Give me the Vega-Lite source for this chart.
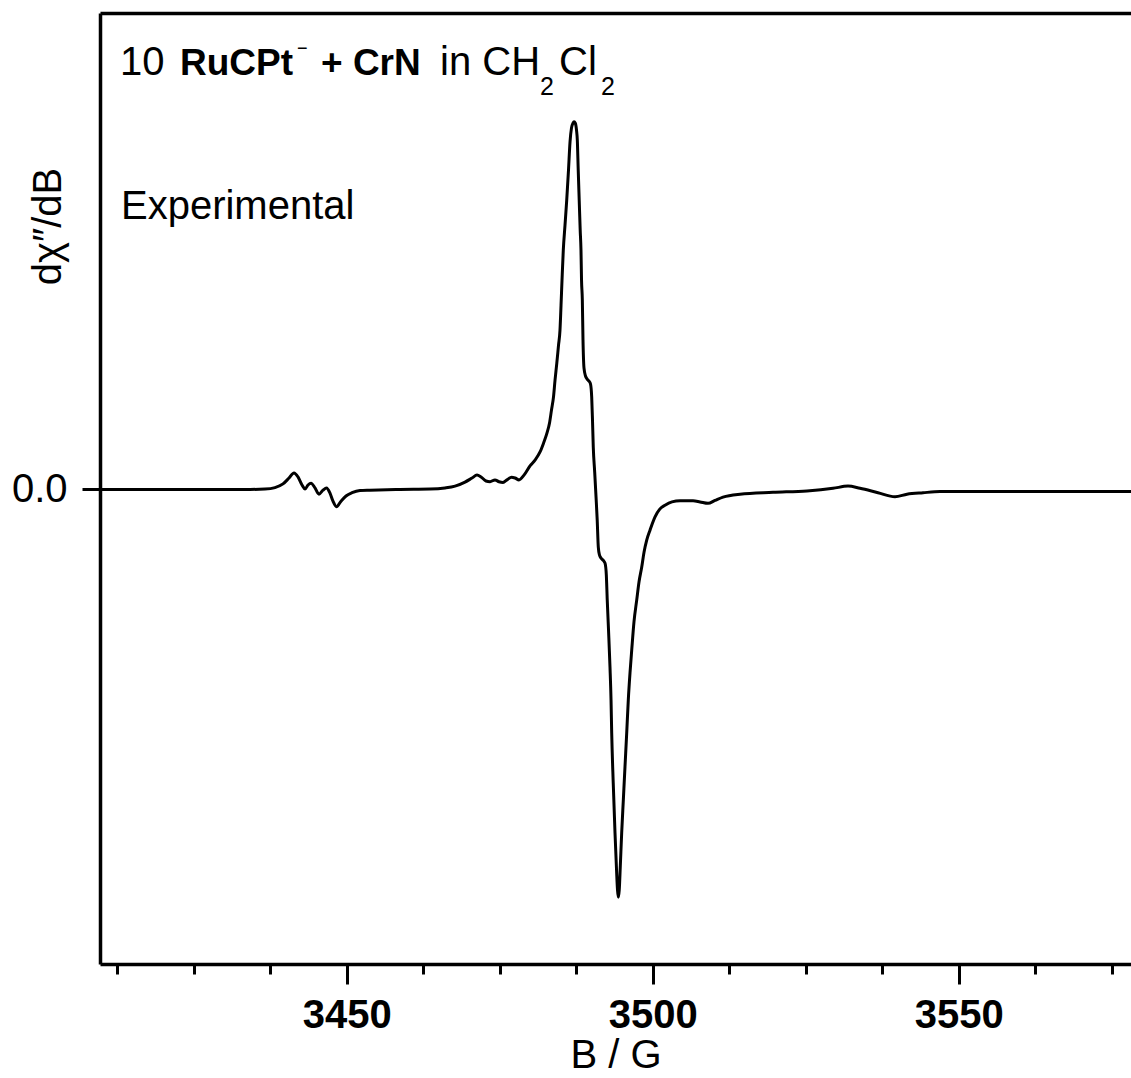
{
 "$schema": "https://vega.github.io/schema/vega-lite/v6.json",
 "width": 1031,
 "height": 951,
 "autosize": {"type": "none"},
 "padding": {"left": 100, "top": 13, "right": 0, "bottom": 114},
 "background": "white",
 "config": {"view": {"stroke": null}, "font": "Liberation Sans"},
 "datasets": {
  "spectrum": [
   {"B": 3409.70, "v": -0.001}, {"B": 3426.04, "v": -0.001}, {"B": 3434.21, "v": -0.001}, {"B": 3436.66, "v": 0.000},
   {"B": 3438.29, "v": 0.004}, {"B": 3439.60, "v": 0.014}, {"B": 3440.58, "v": 0.030}, {"B": 3441.40, "v": 0.044},
   {"B": 3442.05, "v": 0.033}, {"B": 3442.71, "v": 0.011}, {"B": 3443.20, "v": 0.000}, {"B": 3443.69, "v": 0.011},
   {"B": 3444.18, "v": 0.016}, {"B": 3444.83, "v": 0.003}, {"B": 3445.48, "v": -0.014}, {"B": 3446.14, "v": -0.003},
   {"B": 3446.71, "v": 0.003}, {"B": 3447.28, "v": -0.011}, {"B": 3447.77, "v": -0.033}, {"B": 3448.34, "v": -0.048},
   {"B": 3449.08, "v": -0.033}, {"B": 3449.90, "v": -0.019}, {"B": 3450.88, "v": -0.010}, {"B": 3452.18, "v": -0.004},
   {"B": 3453.82, "v": -0.003}, {"B": 3458.72, "v": -0.001}, {"B": 3463.62, "v": 0.000}, {"B": 3466.07, "v": 0.003},
   {"B": 3467.71, "v": 0.008}, {"B": 3469.34, "v": 0.019}, {"B": 3470.48, "v": 0.030}, {"B": 3471.30, "v": 0.038},
   {"B": 3471.95, "v": 0.033}, {"B": 3472.77, "v": 0.022}, {"B": 3473.43, "v": 0.020}, {"B": 3474.24, "v": 0.025},
   {"B": 3474.90, "v": 0.020}, {"B": 3475.55, "v": 0.018}, {"B": 3476.20, "v": 0.025}, {"B": 3476.94, "v": 0.032},
   {"B": 3477.51, "v": 0.030}, {"B": 3478.16, "v": 0.025}, {"B": 3478.98, "v": 0.038}, {"B": 3479.96, "v": 0.063},
   {"B": 3480.78, "v": 0.079}, {"B": 3481.60, "v": 0.101}, {"B": 3482.17, "v": 0.125}, {"B": 3482.74, "v": 0.153},
   {"B": 3483.15, "v": 0.180}, {"B": 3483.47, "v": 0.215}, {"B": 3483.80, "v": 0.251}, {"B": 3484.05, "v": 0.297},
   {"B": 3484.34, "v": 0.343}, {"B": 3484.62, "v": 0.392}, {"B": 3484.86, "v": 0.433}, {"B": 3485.03, "v": 0.501},
   {"B": 3485.19, "v": 0.569}, {"B": 3485.40, "v": 0.651}, {"B": 3485.68, "v": 0.719}, {"B": 3485.96, "v": 0.787},
   {"B": 3486.25, "v": 0.869}, {"B": 3486.50, "v": 0.946}, {"B": 3486.74, "v": 0.984}, {"B": 3486.99, "v": 0.997},
   {"B": 3487.15, "v": 1.001}, {"B": 3487.36, "v": 0.997}, {"B": 3487.56, "v": 0.978}, {"B": 3487.69, "v": 0.951},
   {"B": 3487.84, "v": 0.869}, {"B": 3488.00, "v": 0.787}, {"B": 3488.16, "v": 0.706}, {"B": 3488.29, "v": 0.651},
   {"B": 3488.38, "v": 0.569}, {"B": 3488.51, "v": 0.515}, {"B": 3488.62, "v": 0.406}, {"B": 3488.78, "v": 0.330},
   {"B": 3489.03, "v": 0.308}, {"B": 3489.28, "v": 0.300}, {"B": 3489.60, "v": 0.294}, {"B": 3489.85, "v": 0.286},
   {"B": 3490.04, "v": 0.251}, {"B": 3490.17, "v": 0.188}, {"B": 3490.30, "v": 0.114}, {"B": 3490.53, "v": 0.046},
   {"B": 3490.75, "v": -0.022}, {"B": 3490.94, "v": -0.084}, {"B": 3491.12, "v": -0.158}, {"B": 3491.32, "v": -0.180},
   {"B": 3491.56, "v": -0.188}, {"B": 3491.97, "v": -0.195}, {"B": 3492.22, "v": -0.202}, {"B": 3492.43, "v": -0.234},
   {"B": 3492.58, "v": -0.302}, {"B": 3492.79, "v": -0.384}, {"B": 3493.03, "v": -0.485}, {"B": 3493.20, "v": -0.575},
   {"B": 3493.31, "v": -0.665}, {"B": 3493.56, "v": -0.801}, {"B": 3493.85, "v": -0.937}, {"B": 3494.10, "v": -1.038},
   {"B": 3494.26, "v": -1.093}, {"B": 3494.39, "v": -1.112}, {"B": 3494.54, "v": -1.093}, {"B": 3494.72, "v": -1.025},
   {"B": 3494.94, "v": -0.937}, {"B": 3495.21, "v": -0.847}, {"B": 3495.48, "v": -0.757}, {"B": 3495.76, "v": -0.665},
   {"B": 3496.02, "v": -0.575}, {"B": 3496.30, "v": -0.501}, {"B": 3496.58, "v": -0.439}, {"B": 3496.95, "v": -0.362},
   {"B": 3497.40, "v": -0.302}, {"B": 3497.77, "v": -0.253}, {"B": 3498.21, "v": -0.213}, {"B": 3498.59, "v": -0.172},
   {"B": 3499.03, "v": -0.139}, {"B": 3499.57, "v": -0.112}, {"B": 3500.39, "v": -0.076}, {"B": 3501.20, "v": -0.054},
   {"B": 3502.02, "v": -0.044}, {"B": 3503.16, "v": -0.035}, {"B": 3504.47, "v": -0.032}, {"B": 3506.60, "v": -0.032},
   {"B": 3507.74, "v": -0.035}, {"B": 3509.05, "v": -0.039}, {"B": 3510.19, "v": -0.031}, {"B": 3511.50, "v": -0.022},
   {"B": 3514.28, "v": -0.014}, {"B": 3519.67, "v": -0.009}, {"B": 3525.22, "v": -0.005}, {"B": 3529.47, "v": 0.002},
   {"B": 3531.92, "v": 0.008}, {"B": 3533.88, "v": 0.002}, {"B": 3536.82, "v": -0.010}, {"B": 3539.60, "v": -0.021},
   {"B": 3541.56, "v": -0.014}, {"B": 3544.18, "v": -0.010}, {"B": 3546.95, "v": -0.007}, {"B": 3556.76, "v": -0.007},
   {"B": 3566.56, "v": -0.007}, {"B": 3578.16, "v": -0.007}
  ],
  "normal": [
   {"B": 3412.97, "v": 1.128, "t": "10"},
   {"B": 3465.26, "v": 1.128, "t": "in CH"},
   {"B": 3484.70, "v": 1.128, "t": "Cl"},
   {"B": 3413.13, "v": 0.736, "t": "Experimental"}
  ],
  "bold": [
   {"B": 3422.78, "v": 1.128, "t": "RuCPt"},
   {"B": 3445.81, "v": 1.128, "t": "+ CrN"}
  ],
  "small": [
   {"B": 3481.60, "v": 1.074, "t": "2"},
   {"B": 3491.56, "v": 1.074, "t": "2"}
  ],
  "sup": [
   {"B": 3441.89, "v": 1.184, "t": "−"}
  ]
 },
 "layer": [
  {
   "data": {"name": "spectrum"},
   "mark": {"type": "line", "color": "black", "strokeWidth": 3, "interpolate": "monotone"},
   "encoding": {
    "x": {"field": "B", "type": "quantitative",
     "scale": {"domain": [3409.7, 3578.16], "nice": false, "zero": false},
     "axis": {"orient": "bottom",
      "values": [3412.5, 3425, 3437.5, 3450, 3462.5, 3475, 3487.5, 3500, 3512.5, 3525, 3537.5, 3550, 3562.5, 3575],
      "format": "d",
      "labelExpr": "datum.value % 50 === 0 ? datum.label : ''",
      "tickSize": {"condition": {"test": "datum.value % 50 === 0", "value": 20}, "value": 10},
      "tickWidth": 3, "tickColor": "black", "domainWidth": 3.5, "domainColor": "black", "grid": false,
      "labelFontSize": 40, "labelFontWeight": "bold", "labelFont": "Liberation Sans", "labelColor": "black",
      "labelPadding": 11, "labelOverlap": false, "labelFlush": false,
      "title": "B / G", "titleFontSize": 40, "titleFontWeight": "normal", "titleFont": "Liberation Sans",
      "titleColor": "black", "titlePadding": 0}},
    "y": {"field": "v", "type": "quantitative",
     "scale": {"domain": [-1.294, 1.297], "nice": false, "zero": false},
     "axis": {"values": [0], "format": ".1f", "tickSize": 18, "tickWidth": 3, "tickColor": "black",
      "domainWidth": 3.5, "domainColor": "black", "grid": false,
      "labelFontSize": 40, "labelFont": "Liberation Sans", "labelColor": "black", "labelPadding": 15,
      "title": "dχ″/dB", "titleFontSize": 40, "titleFontWeight": "normal", "titleFont": "Liberation Sans",
      "titleColor": "black", "titleAngle": -90, "titleX": -40, "titleY": 213,
      "titleAlign": "center", "titleBaseline": "alphabetic"}}
   }
  },
  {
   "data": {"name": "normal"},
   "mark": {"type": "text", "align": "left", "baseline": "alphabetic", "fontSize": 40, "font": "Liberation Sans", "color": "black"},
   "encoding": {
    "x": {"field": "B", "type": "quantitative",
     "scale": {"domain": [3409.7, 3578.16], "nice": false, "zero": false},
     "axis": {"orient": "top", "ticks": false, "labels": false, "title": null, "domainWidth": 3.5, "domainColor": "black", "grid": false}},
    "y": {"field": "v", "type": "quantitative", "scale": {"domain": [-1.294, 1.297], "nice": false, "zero": false}},
    "text": {"field": "t"}
   }
  },
  {
   "data": {"name": "bold"},
   "mark": {"type": "text", "align": "left", "baseline": "alphabetic", "fontSize": 37, "fontWeight": "bold", "font": "Liberation Sans", "color": "black"},
   "encoding": {
    "x": {"field": "B", "type": "quantitative", "scale": {"domain": [3409.7, 3578.16], "nice": false, "zero": false}, "axis": null},
    "y": {"field": "v", "type": "quantitative", "scale": {"domain": [-1.294, 1.297], "nice": false, "zero": false}},
    "text": {"field": "t"}
   }
  },
  {
   "data": {"name": "small"},
   "mark": {"type": "text", "align": "left", "baseline": "alphabetic", "fontSize": 25, "font": "Liberation Sans", "color": "black"},
   "encoding": {
    "x": {"field": "B", "type": "quantitative", "scale": {"domain": [3409.7, 3578.16], "nice": false, "zero": false}, "axis": null},
    "y": {"field": "v", "type": "quantitative", "scale": {"domain": [-1.294, 1.297], "nice": false, "zero": false}},
    "text": {"field": "t"}
   }
  },
  {
   "data": {"name": "sup"},
   "mark": {"type": "text", "align": "left", "baseline": "alphabetic", "fontSize": 18, "font": "Liberation Sans", "color": "black"},
   "encoding": {
    "x": {"field": "B", "type": "quantitative", "scale": {"domain": [3409.7, 3578.16], "nice": false, "zero": false}, "axis": null},
    "y": {"field": "v", "type": "quantitative", "scale": {"domain": [-1.294, 1.297], "nice": false, "zero": false}},
    "text": {"field": "t"}
   }
  }
 ],
 "resolve": {"axis": {"x": "independent"}}
}
